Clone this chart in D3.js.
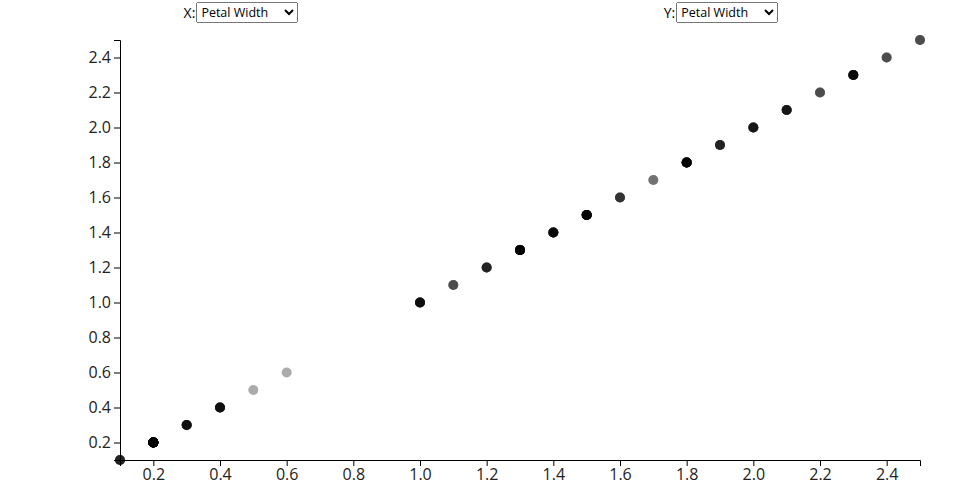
<!DOCTYPE html>
<html>
<head>
<meta charset="utf-8">
<script src="https://cdn.jsdelivr.net/npm/d3@7"></script>
<style>
  body { margin: 0; font-family: "Open Sans", sans-serif; background: #fff; }
  #wrap { position: relative; width: 960px; height: 500px; }
  .ctrl { position: absolute; top: 1px; width: 480px; text-align: center; font-size: 14px; }
  .ctrl label { vertical-align: middle; }
  .ctrl select { font-family: "Open Sans", sans-serif; font-size: 12.5px; width: 102px; height: 21px; vertical-align: middle; margin-left: 1px; }
  svg { position: absolute; left: 0; top: 0; }
  .tick text { font-family: "Open Sans", sans-serif; font-size: 16px; fill: #222; }
</style>
</head>
<body>
<div id="wrap">
  <svg id="chart" width="960" height="500"></svg>
  <div class="ctrl" style="left:1px"><label>X:</label><select id="xs"></select></div>
  <div class="ctrl" style="left:481px"><label>Y:</label><select id="ys"></select></div>
</div>
<script>
// Iris petal widths (cm) for the 150 flowers
const fields = ["Sepal Length", "Sepal Width", "Petal Length", "Petal Width"];
const selectedX = "Petal Width";
const selectedY = "Petal Width";
const petalWidth = [
  0.1,0.1,0.1,0.1,0.1,
  0.2,0.2,0.2,0.2,0.2,0.2,0.2,0.2,0.2,0.2,0.2,0.2,0.2,0.2,0.2,0.2,0.2,0.2,0.2,0.2,0.2,0.2,0.2,0.2,0.2,0.2,0.2,0.2,0.2,
  0.3,0.3,0.3,0.3,0.3,0.3,0.3,
  0.4,0.4,0.4,0.4,0.4,0.4,0.4,
  0.5,
  0.6,
  1.0,1.0,1.0,1.0,1.0,1.0,1.0,
  1.1,1.1,1.1,
  1.2,1.2,1.2,1.2,1.2,
  1.3,1.3,1.3,1.3,1.3,1.3,1.3,1.3,1.3,1.3,1.3,1.3,1.3,
  1.4,1.4,1.4,1.4,1.4,1.4,1.4,1.4,
  1.5,1.5,1.5,1.5,1.5,1.5,1.5,1.5,1.5,1.5,1.5,1.5,
  1.6,1.6,1.6,1.6,
  1.7,1.7,
  1.8,1.8,1.8,1.8,1.8,1.8,1.8,1.8,1.8,1.8,1.8,1.8,
  1.9,1.9,1.9,1.9,1.9,
  2.0,2.0,2.0,2.0,2.0,2.0,
  2.1,2.1,2.1,2.1,2.1,2.1,
  2.2,2.2,2.2,
  2.3,2.3,2.3,2.3,2.3,2.3,2.3,2.3,
  2.4,2.4,2.4,
  2.5,2.5,2.5
];

["#xs", "#ys"].forEach((id, i) => {
  d3.select(id).selectAll("option").data(fields).join("option")
    .text(d => d).property("selected", d => d === (i === 0 ? selectedX : selectedY));
});

const svg = d3.select("#chart");
const margin = { left: 120, right: 40, top: 40, bottom: 40 };
const W = 960, H = 500;

const x = d3.scaleLinear().domain(d3.extent(petalWidth)).range([margin.left, W - margin.right]);
const y = d3.scaleLinear().domain(d3.extent(petalWidth)).range([H - margin.bottom, margin.top]);

svg.append("g").attr("transform", `translate(0,${H - margin.bottom})`)
  .call(d3.axisBottom(x).tickFormat(d3.format(".1f")));
svg.append("g").attr("transform", `translate(${margin.left},0)`)
  .call(d3.axisLeft(y).tickFormat(d3.format(".1f")));

svg.append("g").selectAll("circle").data(petalWidth).join("circle")
  .attr("cx", d => x(d)).attr("cy", d => y(d)).attr("r", 5)
  .attr("fill", "#000").attr("fill-opacity", 0.33);
</script>
</body>
</html>
